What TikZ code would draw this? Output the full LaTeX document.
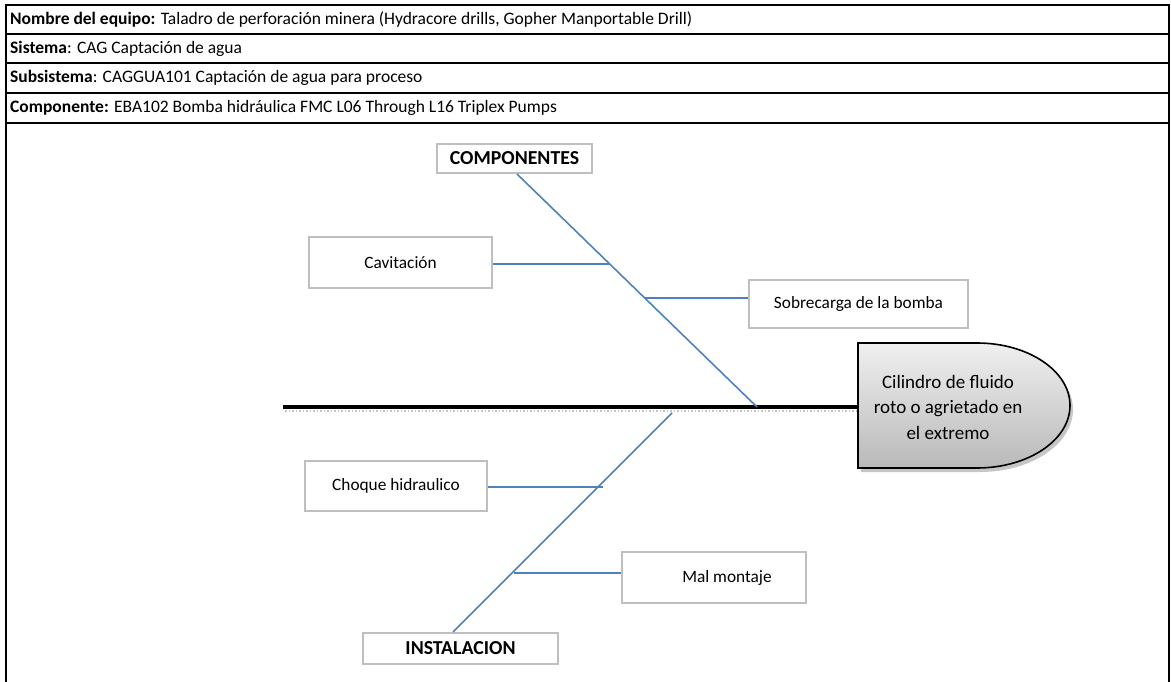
\documentclass[tikz,border=0pt]{standalone}
\usepackage{fontspec}
\setmainfont{Carlito}
\definecolor{boneblue}{RGB}{79,129,189}
\definecolor{boxgray}{RGB}{191,191,191}
\tikzset{
  hdr/.style={anchor=west, inner sep=0pt, font=\fontsize{17.5}{19}\selectfont},
  causebox/.style={draw=boxgray, line width=2pt, fill=white, inner sep=0pt, font=\fontsize{17.3}{19}\selectfont},
  catbox/.style={draw=boxgray, line width=2pt, fill=white, inner sep=0pt, font=\bfseries\fontsize{19.8}{21}\selectfont},
  bone/.style={draw=boneblue, line width=1.6pt},
  frameline/.style={draw=black, line width=1.2pt},
}
\begin{document}
\begin{tikzpicture}[x=1pt,y=-1pt]
\useasboundingbox (0,0) rectangle (1171,682);
% frame
\draw[frameline] (6,682) -- (6,5) -- (1169,5) -- (1169,682);
\draw[frameline, line width=2pt] (6,34) -- (1169,34);
\draw[frameline, line width=2pt] (6,63) -- (1169,63);
\draw[frameline, line width=2pt] (6,93) -- (1169,93);
\draw[frameline, line width=2pt] (6,123) -- (1169,123);
\node[hdr] (h1) at (10,19.5) {\textbf{Nombre del equipo:} Taladro de perforación minera (Hydracore drills, Gopher Manportable Drill)};
\node[hdr] (h2) at (10,48.5) {\textbf{Sistema}: CAG Captación de agua};
\node[hdr] (h3) at (10,78) {\textbf{Subsistema}: CAGGUA101 Captación de agua para proceso};
\node[hdr] (h4) at (10,108) {\textbf{Componente:} EBA102 Bomba hidráulica FMC L06 Through L16 Triplex Pumps};

% spine shadow
\draw[gray!45, line width=1.5pt, dotted] (285,411) -- (858,411);
% spine
\coordinate (tail) at (283,407);
\coordinate (spinehead) at (858,407);
\draw[line width=4.5pt] (tail) -- (spinehead);

% head shadow
\fill[gray!45] (861,347) -- (980,347) .. controls (1031.4,347) and (1073,375) .. (1073,409.5) .. controls (1073,444) and (1031.4,472) .. (980,472) -- (861,472) -- cycle;
% head
\path[draw=black, line width=1.6pt, top color=gray!12, bottom color=gray!55]
  (858,343) -- (977,343) .. controls (1028.4,343) and (1070,371) .. (1070,405.5)
  .. controls (1070,440) and (1028.4,468) .. (977,468) -- (858,468) -- cycle;
\node[align=center, font=\fontsize{19}{25.5}\selectfont, inner sep=0pt] (effect) at (948,407)
  {Cilindro de fluido\\roto o agrietado en\\el extremo};

% category boxes
\node[catbox, minimum width=155pt, minimum height=29pt] (comp) at (514.5,158.5) {COMPONENTES};
\node[catbox, minimum width=195pt, minimum height=31pt] (inst) at (460.5,648.5) {INSTALACION};

% main bones
\coordinate (j1) at (757,407);
\coordinate (j2) at (672,413);
\draw[bone] (comp.south) ++(2.5,0) coordinate (c1) -- (j1);
\draw[bone] (inst.north) ++(-7.5,0) coordinate (i1) -- (j2);

% cause boxes
\node[causebox, minimum width=183pt, minimum height=51pt] (cav) at (400.5,262.5) {Cavitación};
\node[causebox, minimum width=219pt, minimum height=48pt] (sob) at (858.5,304) {Sobrecarga de la bomba};
\node[causebox, minimum width=182pt, minimum height=50pt] (cho) at (396,485.5) {Choque hidraulico};
\node[causebox, minimum width=184pt, minimum height=51pt] (mal) at (714,577.5) {\hspace*{26pt}Mal montaje};

% junctions on bones
\coordinate (k1) at (610,264);
\coordinate (k2) at (645,298);
\coordinate (k3) at (603,487);
\coordinate (k4) at (514,573);
\draw[bone] (cav.east |- k1) -- (k1);
\draw[bone] (k2) -- (sob.west |- k2);
\draw[bone] (cho.east |- k3) -- (k3);
\draw[bone] (k4) -- (mal.west |- k4);
\end{tikzpicture}
\end{document}
